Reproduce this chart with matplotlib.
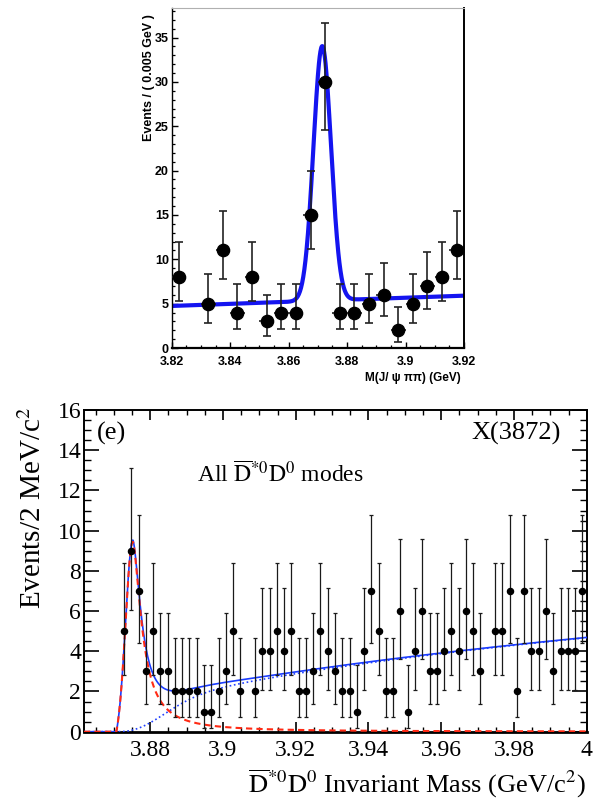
import numpy as np
import matplotlib
matplotlib.use("Agg")
import matplotlib.pyplot as plt
from matplotlib.ticker import MultipleLocator, FuncFormatter

plt.rcParams['mathtext.fontset'] = 'stix'

# ---------------- Top panel: M(J/psi pi pi) ----------------
top_centers = [3.8225, 3.8275, 3.8325, 3.8375, 3.8425, 3.8475, 3.8525, 3.8575,
               3.8625, 3.8675, 3.8725, 3.8775, 3.8825, 3.8875, 3.8925, 3.8975,
               3.9025, 3.9075, 3.9125, 3.9175]
top_counts = [8, 0, 5, 11, 4, 8, 3, 4, 4, 15, 30, 4, 4, 5, 6, 2, 5, 7, 8, 11]
top_halfwidth = 0.0025

# top fit: gaussian + linear background
TOP_BKG_AT_LEFT = 4.74   # value at 3.82
TOP_BKG_SLOPE = 11.6     # per GeV
TOP_PEAK_MEAN = 3.8715
TOP_PEAK_SIGMA = 0.0030
TOP_PEAK_AMP = 28.7

# ---------------- Bottom panel: D*0bar D0 ----------------
bot_first_center = 3.8728
bot_bin_width = 0.002
bot_counts = [5, 9, 7, 3, 5, 3, 3, 2, 2, 2,
              2, 1, 1, 2, 3, 5, 2, 0, 2, 4,
              4, 5, 4, 5, 2, 2, 3, 5, 4, 3,
              2, 2, 1, 4, 7, 5, 2, 2, 6, 1,
              4, 6, 3, 3, 4, 5, 4, 6, 5, 3,
              0, 5, 5, 7, 2, 7, 4, 4, 6, 3,
              4, 4, 4, 7]

# Poisson 68% intervals (count -> (low, high))
poisson_low = {1: 0.17, 2: 0.71, 3: 1.37, 4: 2.09, 5: 2.84, 6: 3.62, 7: 4.42,
               8: 5.32, 9: 6.06, 11: 7.75, 15: 11.2, 30: 24.6}
poisson_high = {1: 3.30, 2: 4.64, 3: 5.92, 4: 7.16, 5: 8.38, 6: 9.58, 7: 10.77,
                8: 11.97, 9: 13.1, 11: 15.4, 15: 20.0, 30: 36.6}

# bottom fit components
SIG_THRESH = 3.8707
SIG_PEAK = 3.8752
SIG_HEIGHT = 9.45
SIG_SIGMA_L = 0.0019
SIG_WIDTH_R = 0.0029
SIG_TAIL_POWER = 1.7
SIG_ONSET = 0.0006

BKG_THRESH = 3.8707
BKG_NORM = 13.0
BKG_POWER = 0.5
BKG_ONSET = 0.014

TOP_XLIM = (3.82, 3.92)
TOP_YLIM = (0, 38.3)
BOT_XLIM = (3.8618, 4.0)
BOT_YLIM = (0, 16)


def top_model(x):
    bkg = TOP_BKG_AT_LEFT + TOP_BKG_SLOPE * (x - 3.82)
    return bkg + TOP_PEAK_AMP * np.exp(-0.5 * ((x - TOP_PEAK_MEAN) / TOP_PEAK_SIGMA) ** 2)


def signal(x):
    d = x - SIG_PEAK
    left = np.exp(-0.5 * (d / SIG_SIGMA_L) ** 2)
    right = 1.0 / (1.0 + (np.clip(d, 0, None) / SIG_WIDTH_R) ** SIG_TAIL_POWER)
    s = np.where(d < 0, left, right)
    u = np.clip(x - SIG_THRESH, 0, None)
    return SIG_HEIGHT * s * (1 - np.exp(-u / SIG_ONSET))


def background(x):
    u = np.clip(x - BKG_THRESH, 0, None)
    return BKG_NORM * u ** BKG_POWER * (1 - np.exp(-(u / BKG_ONSET) ** 2))


def fmt_g(v, pos):
    return f"{v:.2f}".rstrip('0').rstrip('.')


fig = plt.figure(figsize=(5.93, 8.0), dpi=100)

# ================= TOP =================
axt = fig.add_axes([171.7 / 593, 1 - 348 / 800, (464 - 171.7) / 593, (348 - 8.3) / 800])
xs = np.linspace(TOP_XLIM[0], TOP_XLIM[1], 801)
axt.plot(xs, top_model(xs), color='#1414f0', lw=3.0, zorder=2)

tx = np.array([c for c, n in zip(top_centers, top_counts) if n > 0])
tn = np.array([n for n in top_counts if n > 0])
tlo = np.array([n - poisson_low[n] for n in tn])
thi = np.array([poisson_high[n] - n for n in tn])
axt.errorbar(tx, tn, yerr=[tlo, thi], fmt='none', ecolor='#222222', elinewidth=1.2,
             capsize=2.6, capthick=1.2, zorder=3)
axt.errorbar(tx, tn, xerr=top_halfwidth, fmt='none', ecolor='#222222', elinewidth=1.2,
             capsize=0, zorder=3)
axt.plot(tx, tn, 'o', color='black', ms=8.8, zorder=4)

axt.set_xlim(*TOP_XLIM)
axt.set_ylim(*TOP_YLIM)
axt.xaxis.set_major_locator(MultipleLocator(0.02))
axt.xaxis.set_minor_locator(MultipleLocator(0.005))
axt.yaxis.set_major_locator(MultipleLocator(5))
axt.yaxis.set_minor_locator(MultipleLocator(1))
axt.xaxis.set_major_formatter(FuncFormatter(fmt_g))
axt.tick_params(which='both', direction='in', top=False, right=False, colors='black')
axt.tick_params(which='major', length=4.5, width=1.0)
axt.tick_params(which='minor', length=2.3, width=0.9)
axt.tick_params(axis='x', pad=5.5)
axt.tick_params(axis='y', pad=2)
for lab in axt.get_xticklabels() + axt.get_yticklabels():
    lab.set_fontfamily('Liberation Sans')
    lab.set_fontweight('bold')
    lab.set_fontsize(9)
axt.spines['top'].set_color('#b0b0b0')
axt.spines['top'].set_linewidth(0.8)
axt.spines['right'].set_linewidth(1.4)
axt.spines['left'].set_linewidth(1.0)
axt.spines['bottom'].set_linewidth(1.6)

fig.text(149 / 593, 1 - 14 / 800, 'Events / ( 0.005 GeV )', rotation=90,
         ha='center', va='top', fontsize=9, fontweight='bold', family='Liberation Sans')
fig.text(461 / 593, 1 - 378 / 800, 'M(J/ ψ ππ) (GeV)', ha='right', va='center',
         fontsize=8.5, fontweight='bold', family='Liberation Sans')

# ================= BOTTOM =================
axb = fig.add_axes([84 / 593, 1 - 731.7 / 800, (586.7 - 84) / 593, (731.7 - 410) / 800])
xb = np.linspace(BOT_XLIM[0], BOT_XLIM[1], 1400)
sig = signal(xb)
bkg = background(xb)
axb.plot(xb, sig + bkg, color='#1a3cff', lw=1.2, zorder=3)
axb.plot(xb, sig, color='#ff2a14', lw=1.5, ls=(0, (3, 2)), zorder=4)
axb.plot(xb, bkg, color='#2040ff', lw=1.2, ls=(0, (1, 1.6)), zorder=3)

centers = bot_first_center + bot_bin_width * np.arange(len(bot_counts))
cb = np.array(bot_counts)
mask = cb > 0
bx = centers[mask]
bn = cb[mask]
blo = np.array([n - poisson_low[n] for n in bn])
bhi = np.array([poisson_high[n] - n for n in bn])
axb.errorbar(bx, bn, yerr=[blo, bhi], fmt='none', ecolor='#1a1a1a', elinewidth=0.9,
             capsize=1.3, capthick=0.9, zorder=5)
axb.plot(bx, bn, 'o', color='black', ms=4.4, zorder=6)

axb.set_xlim(*BOT_XLIM)
axb.set_ylim(*BOT_YLIM)
axb.xaxis.set_major_locator(MultipleLocator(0.02))
axb.xaxis.set_minor_locator(MultipleLocator(0.005))
axb.yaxis.set_major_locator(MultipleLocator(2))
axb.yaxis.set_minor_locator(MultipleLocator(0.5))
axb.xaxis.set_major_formatter(FuncFormatter(fmt_g))
axb.tick_params(which='both', direction='in', top=True, right=True, colors='black')
axb.tick_params(axis='y', which='major', length=10.5, width=1.2, pad=2)
axb.tick_params(axis='y', which='minor', length=4.8, width=1.0)
axb.tick_params(axis='x', which='major', length=7.0, width=1.2, pad=6)
axb.tick_params(axis='x', which='minor', length=3.3, width=1.0)
for lab in axb.get_xticklabels() + axb.get_yticklabels():
    lab.set_fontfamily('Liberation Serif')
    lab.set_fontsize(17)
for sp in axb.spines.values():
    sp.set_linewidth(1.4)
axb.spines['bottom'].set_linewidth(2.0)

serif = 'Liberation Serif'
fig.text(33 / 593, 1 - 407 / 800, 'Events/2 MeV/c$^{2}$', rotation=90, ha='center', va='top',
         fontsize=21, family=serif)
fig.text(586 / 593, 1 - 793 / 800,
         r'$\overline{\mathrm{D}}^{*0}\mathrm{D}^{0}$ Invariant Mass (GeV/c$^{2}$)',
         ha='right', va='baseline', fontsize=19, family=serif)
axb.text(97 / 593, 1 - 433 / 800, '(e)', transform=fig.transFigure, ha='left', va='center',
         fontsize=19, family=serif)
axb.text(561 / 593, 1 - 433 / 800, 'X(3872)', transform=fig.transFigure, ha='right',
         va='center', fontsize=19, family=serif)
axb.text(197 / 593, 1 - 482 / 800,
         r'All $\overline{\mathrm{D}}^{*0}\mathrm{D}^{0}$ modes', transform=fig.transFigure,
         ha='left', va='baseline', fontsize=17, family=serif)

fig.savefig('out.png', dpi=100)
